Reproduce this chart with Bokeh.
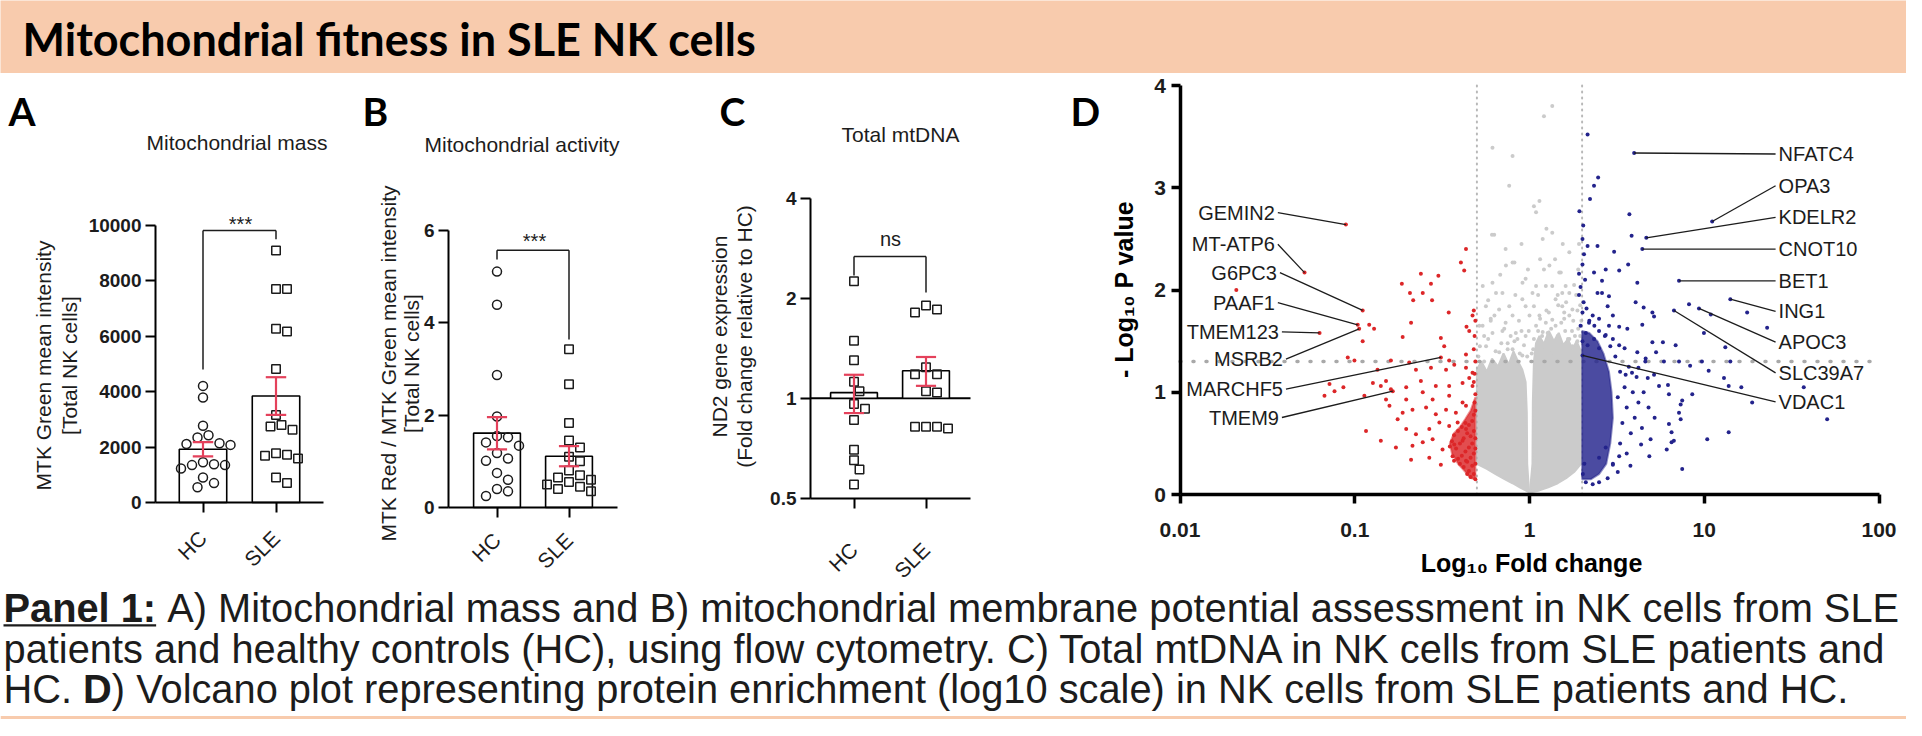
import numpy as np
from bokeh.plotting import figure
from bokeh.layouts import column, row
from bokeh.models import Range1d, FixedTicker, CustomJSTickFormatter, Label
from bokeh.core.properties import value
from bokeh.embed import file_html
from bokeh.resources import INLINE

# ======================= DATA =======================
groups = ["HC", "SLE"]

# A) Mitochondrial mass (MTK Green mean intensity)
mass_hc = [4210, 3790, 2770, 2430, 2350, 2140, 2110, 2080, 1450, 1380, 1350, 1350, 1230, 900, 700, 550]
mass_sle = [9100, 7710, 7710, 6270, 6170, 4820, 3160, 2800, 2740, 2630, 1780, 1720, 1690, 1590, 900, 700]
mass_ticks = [0, 2000, 4000, 6000, 8000, 10000]

# B) Mitochondrial activity (MTK Red / MTK Green)
act_hc = [5.11, 4.39, 2.87, 1.97, 1.55, 1.52, 1.41, 1.34, 1.18, 1.06, 1.01, 0.75, 0.60, 0.40, 0.35, 0.25]
act_sle = [3.43, 2.67, 1.83, 1.45, 1.30, 1.10, 1.00, 0.80, 0.70, 0.65, 0.60, 0.55, 0.50, 0.45, 0.40, 0.35]
act_ticks = [0, 2, 4, 6]

# C) Total mtDNA (ND2 fold change relative to HC)
mtdna_hc = [2.25, 1.49, 1.30, 1.12, 1.05, 0.96, 0.93, 0.86, 0.70, 0.65, 0.61, 0.55]
mtdna_sle = [1.90, 1.85, 1.81, 1.24, 1.18, 1.18, 1.05, 1.04, 0.82, 0.82, 0.82, 0.81]
mtdna_ticks = [0.5, 1, 2, 4]

significance = ["***", "***", "ns"]

# D) Volcano: (fold change, -log10 p)
fc_ticks = [0.01, 0.1, 1, 10, 100]
p_ticks = [0, 1, 2, 3, 4]
fc_low, fc_high, p_cut = 0.5, 2.0, 1.301

genes_left = ["GEMIN2", "MT-ATP6", "G6PC3", "PAAF1", "TMEM123", "MSRB2", "MARCHF5", "TMEM9"]
genes_left_fc = [0.089, 0.0516, 0.111, 0.104, 0.0629, 0.106, 0.311, 0.165]
genes_left_p = [2.64, 2.17, 1.80, 1.66, 1.58, 1.62, 1.34, 1.01]
genes_right = ["NFATC4", "OPA3", "KDELR2", "CNOT10", "BET1", "ING1", "APOC3", "SLC39A7", "VDAC1"]
genes_right_fc = [3.97, 11.1, 4.66, 4.42, 7.17, 14.1, 9.33, 6.71, 2.01]
genes_right_p = [3.34, 2.67, 2.51, 2.40, 2.09, 1.91, 1.82, 1.80, 1.36]

down_points = [
    (0.021, 2.0), (0.433, 2.40), (0.405, 2.27), (0.423, 2.19), (0.239, 2.16), (0.301, 2.14),
    (0.186, 2.06), (0.207, 1.97), (0.245, 1.97), (0.273, 2.06), (0.216, 1.90), (0.277, 1.90),
    (0.345, 1.78), (0.121, 1.66), (0.129, 1.62), (0.210, 1.68), (0.188, 1.54), (0.111, 1.50),
    (0.311, 1.53), (0.325, 1.45), (0.436, 1.64), (0.452, 1.60), (0.472, 1.75), (0.0912, 1.34),
    (0.0996, 1.31), (0.433, 1.37), (0.347, 1.31), (0.371, 1.27), (0.135, 1.22), (0.161, 1.31),
    (0.205, 1.29), (0.224, 1.22), (0.273, 1.24), (0.333, 1.22), (0.433, 1.24), (0.472, 1.19),
    (0.0717, 1.08), (0.0861, 1.05), (0.127, 1.09), (0.151, 1.11), (0.141, 1.06), (0.161, 1.03),
    (0.197, 1.05), (0.239, 1.11), (0.291, 1.06), (0.347, 1.06), (0.414, 1.09), (0.452, 1.14),
    (0.472, 1.06), (0.0671, 0.965), (0.0766, 1.01), (0.1135, 0.965), (0.151, 0.93), (0.197, 0.93),
    (0.245, 1.00), (0.279, 0.93), (0.347, 0.965), (0.414, 0.90), (0.158, 0.867), (0.188, 0.80),
    (0.214, 0.83), (0.256, 0.85), (0.291, 0.785), (0.333, 0.83), (0.379, 0.80), (0.433, 0.867),
    (0.116, 0.62), (0.141, 0.525), (0.176, 0.736), (0.197, 0.64), (0.224, 0.59), (0.267, 0.64),
    (0.305, 0.704), (0.347, 0.67), (0.388, 0.704), (0.433, 0.64), (0.172, 0.46), (0.214, 0.476),
    (0.245, 0.51), (0.279, 0.54), (0.318, 0.44), (0.371, 0.49), (0.414, 0.525), (0.210, 0.34),
    (0.267, 0.36), (0.311, 0.29), (0.363, 0.375), (0.433, 0.33),
    (0.47, 0.72), (0.45, 0.68), (0.43, 0.70), (0.41, 0.66), (0.39, 0.62), (0.37, 0.58),
    (0.36, 0.52), (0.35, 0.47), (0.38, 0.45), (0.40, 0.50), (0.42, 0.55), (0.44, 0.60),
    (0.46, 0.57), (0.48, 0.62), (0.49, 0.55), (0.47, 0.50), (0.45, 0.46), (0.43, 0.42),
    (0.41, 0.38), (0.39, 0.35), (0.37, 0.33), (0.40, 0.30), (0.42, 0.27), (0.44, 0.32),
    (0.46, 0.36), (0.48, 0.40), (0.49, 0.45), (0.47, 0.28), (0.45, 0.23), (0.48, 0.20),
    (0.49, 0.30), (0.46, 0.17), (0.44, 0.20), (0.49, 0.15),
    (0.48, 1.80), (0.49, 1.70), (0.485, 1.55), (0.48, 1.42), (0.49, 1.30), (0.485, 1.18),
    (0.48, 1.10), (0.49, 0.98), (0.485, 0.90), (0.49, 0.82), (0.48, 0.78),
]

up_points = [
    (2.15, 3.52), (2.47, 3.10), (2.34, 3.02), (2.22, 2.89), (3.73, 2.74), (1.93, 2.77), (2.03, 2.63),
    (3.84, 2.53), (2.01, 2.50), (2.15, 2.43), (2.45, 2.43), (3.05, 2.375), (3.67, 2.25), (2.01, 2.25),
    (2.73, 2.20), (2.34, 2.17), (3.26, 2.19), (1.92, 2.16), (2.60, 2.09), (4.14, 2.07), (1.96, 2.03),
    (2.45, 1.97), (2.60, 1.97), (2.85, 1.94), (1.92, 1.95), (4.05, 1.88), (2.80, 1.84), (8.18, 1.86),
    (5.05, 1.78), (5.16, 1.74), (4.50, 1.83), (10.9, 1.76), (17.6, 1.78), (2.01, 1.78), (2.30, 1.75),
    (2.50, 1.72), (3.00, 1.75), (22.9, 1.63), (9.96, 1.58), (1.96, 1.65), (2.10, 1.58), (2.19, 1.68),
    (2.85, 1.65), (3.26, 1.64), (3.63, 1.62), (4.42, 1.66), (2.73, 1.56), (3.00, 1.52), (5.05, 1.49),
    (5.80, 1.49), (6.86, 1.46), (13.2, 1.44), (2.01, 1.50), (2.15, 1.46), (2.34, 1.52), (2.50, 1.43),
    (3.26, 1.46), (3.50, 1.43), (4.14, 1.39), (5.30, 1.39), (4.62, 1.33), (5.88, 1.30), (7.17, 1.30),
    (8.30, 1.26), (9.70, 1.30), (14.1, 1.30), (10.6, 1.21), (12.97, 1.14), (13.8, 1.06), (16.3, 1.05),
    (37.1, 1.05), (18.8, 0.90), (50.5, 0.736), (8.54, 0.98), (7.48, 0.92), (7.33, 0.88), (6.28, 0.98),
    (5.51, 1.06), (5.16, 1.17), (4.75, 1.14), (6.20, 1.07), (4.20, 1.24), (3.86, 1.19), (3.55, 1.17),
    (7.17, 0.80), (7.33, 0.736), (6.28, 0.69), (6.50, 0.61), (13.8, 0.61), (10.4, 0.54), (6.50, 0.51),
    (6.70, 0.525), (4.93, 0.54), (4.35, 0.49), (6.10, 0.44), (4.85, 0.375), (3.78, 0.28), (7.48, 0.25),
    (2.50, 0.36), (3.26, 0.375), (3.00, 0.29), (2.73, 0.46),
    (3.1, 1.35), (3.3, 1.2), (3.5, 1.05), (3.2, 0.95), (3.6, 0.85), (3.4, 0.7), (3.8, 0.6), (3.3, 0.5),
    (3.6, 0.4), (3.0, 0.3), (3.2, 0.22), (2.8, 0.16), (2.5, 0.12), (2.3, 0.1), (2.1, 0.12), (2.9, 1.45),
    (2.7, 1.55), (2.5, 1.6), (2.35, 1.65), (2.2, 1.7), (3.9, 1.0), (4.2, 0.9), (4.0, 0.75), (4.4, 0.65),
    (3.7, 1.25), (4.1, 1.15), (4.5, 1.0), (4.8, 0.85), (5.2, 0.75), (4.6, 1.3), (2.05, 2.35),
    (2.08, 2.1), (2.04, 1.88), (2.12, 1.82), (2.02, 0.2), (2.06, 0.3),
]

ns_points = [
    (1.35, 3.80), (1.21, 3.70), (0.614, 3.39), (0.80, 3.31), (0.765, 3.02), (1.14, 2.87), (1.09, 2.76),
    (1.06, 2.82), (0.628, 2.54), (1.35, 2.56), (1.19, 2.50), (0.73, 2.40), (0.80, 2.27), (1.30, 2.24),
    (0.614, 2.07), (0.70, 1.97), (0.912, 2.07), (1.04, 1.97), (1.24, 2.04), (1.48, 2.17), (1.54, 1.97),
    (1.61, 2.04), (0.563, 1.84), (0.67, 1.81), (0.80, 1.75), (0.95, 1.84), (1.41, 1.91), (1.54, 1.84),
    (1.69, 1.97), (1.14, 1.75), (1.35, 1.71), (1.69, 1.75), (0.539, 1.65), (0.614, 1.58), (0.73, 1.68),
    (0.835, 1.58), (1.09, 1.65), (1.24, 1.68), (1.41, 1.65), (0.52, 1.45), (0.58, 1.52), (0.64, 1.40),
    (0.69, 1.48), (0.75, 1.42), (0.82, 1.50), (0.88, 1.38), (0.93, 1.46), (1.06, 1.52), (1.12, 1.60),
    (1.18, 1.55), (1.27, 1.58), (1.33, 1.62), (1.45, 1.55), (1.52, 1.68), (1.60, 1.60), (1.66, 1.52),
    (1.75, 1.60), (1.82, 1.55), (1.90, 1.62), (0.55, 1.30), (0.62, 1.25), (0.72, 1.30), (0.85, 1.25),
    (0.97, 1.35), (1.15, 1.72), (1.25, 1.80), (1.46, 1.85), (1.58, 1.78), (1.78, 1.70), (1.88, 1.80),
    (0.60, 1.70), (0.90, 1.60), (1.98, 1.70), (1.95, 1.55), (0.51, 1.35), (0.78, 1.55), (0.99, 1.60),
    (0.61, 2.54), (0.733, 2.24), (0.82, 2.27), (0.95, 2.11), (1.09, 2.04), (1.21, 2.20), (1.35, 2.04),
    (1.51, 2.17), (1.69, 2.37), (0.54, 2.04), (0.643, 1.97), (0.766, 1.84), (0.91, 1.91), (1.06, 1.84),
    (1.29, 1.78), (1.58, 1.72), (1.76, 1.81), (0.516, 1.65), (0.60, 1.72), (0.717, 1.62), (0.853, 1.52),
    (0.95, 1.55), (1.19, 1.59), (1.41, 1.49), (1.69, 1.52), (0.564, 1.45), (0.671, 1.39), (0.80, 1.42),
    (0.91, 1.36), (1.05, 1.42), (1.35, 1.39), (1.21, 1.45), (1.76, 1.45), (1.88, 1.50), (0.70, 1.60),
    (0.63, 1.75), (0.87, 1.70), (1.00, 1.75), (1.12, 1.95), (1.45, 1.95), (1.62, 1.88), (1.85, 1.95),
    (0.58, 1.90), (0.83, 1.95), (0.98, 2.20), (1.15, 2.30), (1.40, 2.30), (0.68, 2.15), (1.55, 2.45),
    (1.25, 2.60), (0.90, 2.45), (1.90, 2.20), (1.80, 2.05), (0.55, 1.55), (0.75, 1.48), (1.03, 1.38),
    (1.95, 1.85), (1.92, 2.45),
]

# dense cores of the volcano (outline of the solid-looking clouds)
ns_cloud_left = [(0.50, 0.30), (0.50, 1.22), (0.53, 1.30), (0.57, 1.20), (0.61, 1.33), (0.66, 1.25),
                 (0.71, 1.38), (0.76, 1.27), (0.81, 1.40), (0.86, 1.30), (0.91, 1.22), (0.95, 1.10),
                 (0.965, 0.80), (0.97, 0.30), (0.995, 0.02), (0.95, 0.04), (0.88, 0.07), (0.80, 0.11),
                 (0.72, 0.15), (0.64, 0.20), (0.57, 0.25)]
ns_cloud_right = [(1.005, 0.02), (1.04, 0.30), (1.045, 0.90), (1.06, 1.30), (1.09, 1.48), (1.14, 1.55),
                  (1.21, 1.47), (1.29, 1.60), (1.38, 1.50), (1.47, 1.58), (1.56, 1.46), (1.66, 1.52),
                  (1.76, 1.42), (1.86, 1.50), (1.97, 1.40), (1.97, 0.30), (1.80, 0.22), (1.62, 0.16),
                  (1.45, 0.11), (1.28, 0.07), (1.14, 0.04)]
down_cloud = [(0.49, 0.15), (0.49, 0.95), (0.46, 0.82), (0.43, 0.74), (0.40, 0.66), (0.37, 0.60),
              (0.35, 0.50), (0.36, 0.40), (0.39, 0.30), (0.43, 0.22), (0.46, 0.16)]
up_cloud = [(2.0, 0.15), (2.0, 1.60), (2.2, 1.58), (2.45, 1.50), (2.65, 1.38), (2.85, 1.20), (2.95, 1.00),
            (3.0, 0.75), (2.9, 0.50), (2.75, 0.30), (2.5, 0.20), (2.25, 0.15)]

# ======================= STYLE / LAYOUT =======================
TXT = "#1c1c1c"
ERR = "#E4415B"
PEACH = "#F8CBAD"
NS_COL = "#CBCBCB"
DOWN_COL = "#DC2628"
UP_COL = "#23238C"
SANS = "Liberation Sans"
HEAD = "Lato"
PAGE = 8            # body margin of the page
HDR_H = 73
ROW_TOP = PAGE + HDR_H
ROW_H = 509
W = 1906


class Frame:
    """panel whose frame fills its whole canvas; maps page pixels to data"""

    def __init__(self, px0, w, xr, yr, xlog=False, ylog=False):
        self.px0, self.w, self.xr, self.yr, self.xlog, self.ylog = px0, w, xr, yr, xlog, ylog

    @staticmethod
    def _map(t, r, lg):
        if lg:
            a, b = np.log10(r[0]), np.log10(r[1])
            return 10 ** (a + t * (b - a))
        return r[0] + t * (r[1] - r[0])

    def x(self, X):
        return self._map((X - self.px0) / self.w, self.xr, self.xlog)

    def y(self, Y):
        return self._map((ROW_TOP + ROW_H - Y) / ROW_H, self.yr, self.ylog)


def lin_x(px0, w, X0, v0, ppu):
    return (v0 - (X0 - px0) / ppu, v0 + (px0 + w - X0) / ppu)


def lin_y(Y0, v0, ppu):
    return (v0 - (ROW_TOP + ROW_H - Y0) / ppu, v0 + (Y0 - ROW_TOP) / ppu)


def log_x(px0, w, X0, v0, ppd, base):
    lv = np.log(v0) / np.log(base)
    return (base ** (lv - (X0 - px0) / ppd), base ** (lv + (px0 + w - X0) / ppd))


def log_y(Y0, v0, ppd, base):
    lv = np.log(v0) / np.log(base)
    return (base ** (lv - (ROW_TOP + ROW_H - Y0) / ppd), base ** (lv + (Y0 - ROW_TOP) / ppd))


def mkpanel(fr_, **kw):
    p = figure(width=fr_.w, height=ROW_H, x_range=Range1d(*fr_.xr), y_range=Range1d(*fr_.yr),
               output_backend="svg", toolbar_location=None, min_border=0, **kw)
    p.outline_line_color = None
    p.xgrid.grid_line_color = None
    p.ygrid.grid_line_color = None
    p.background_fill_color = "white"
    p.border_fill_color = "white"
    return p


def txt(p, fr_, X, Y, text, size, bold=False, align="center", baseline="middle",
        angle=0.0, font=SANS, color=TXT):
    p.add_layout(Label(x=fr_.x(X), y=fr_.y(Y), text=text, text_font=font,
                       text_font_size=f"{size}px", text_font_style="bold" if bold else "normal",
                       text_align=align, text_baseline=baseline, angle=angle, text_color=color))


def style_axes(p, lw, tick_out, ylab_size, standoff):
    for ax in p.axis:
        ax.axis_line_color = "black"
        ax.axis_line_width = lw
        ax.major_tick_line_color = "black"
        ax.major_tick_line_width = lw
        ax.major_tick_out = tick_out
        ax.major_tick_in = 0
        ax.minor_tick_line_color = None
        ax.major_label_text_font = SANS
        ax.major_label_text_color = TXT
    p.yaxis.major_label_text_font_style = "bold"
    p.yaxis.major_label_text_font_size = f"{ylab_size}px"
    p.yaxis.major_label_standoff = standoff


def place_axes(p, x_at, x_bounds, y_at, y_bounds):
    p.yaxis.fixed_location = x_at
    p.yaxis.bounds = y_bounds
    p.xaxis.fixed_location = y_at
    p.xaxis.bounds = x_bounds


def swarm_offsets(vals, to_px, diam, step):
    order = sorted(range(len(vals)), key=lambda i: -vals[i])
    placed, offs = [], [0.0] * len(vals)
    cands = [0.0]
    for k in range(1, 14):
        cands += [k * step, -k * step]
    for i in order:
        y = to_px(vals[i])
        for c in cands:
            if all((c - px) ** 2 + (y - py) ** 2 >= diam ** 2 for px, py in placed):
                break
        placed.append((c, y))
        offs[i] = c
    return offs


def dot_bar_panel(p, data, markers, base, to_px, xppu, bracket, cap=0.14, bar_w=0.65):
    for i, vals in enumerate(data):
        xc = i + 1
        v = np.array(vals, float)
        m = v.mean()
        se = v.std(ddof=1) / np.sqrt(len(v))
        p.vbar(x=[xc], width=bar_w, bottom=[base], top=[m], fill_color="white",
               line_color="black", line_width=1.6)
        offs = swarm_offsets(list(v), to_px, 10.5, 5.5)
        xs = xc + np.array(offs) / xppu
        mk = markers[i]
        p.scatter(xs, v, marker=mk, size=9 if mk == "circle" else 8.5, fill_color=None,
                  line_color=TXT, line_width=1.5)
        p.segment([xc], [m - se], [xc], [m + se], line_color=ERR, line_width=2.2)
        p.segment([xc - cap, xc - cap], [m - se, m + se], [xc + cap, xc + cap], [m - se, m + se],
                  line_color=ERR, line_width=2.2)
    top, l_leg, r_leg = bracket
    p.segment([1, 1, 2], [top, top, top], [2, 1, 2], [top, l_leg, r_leg], line_color=TXT, line_width=1.5)


def cat_axis(p, standoff):
    p.xaxis.ticker = FixedTicker(ticks=[1, 2], minor_ticks=[])
    p.xaxis.formatter = CustomJSTickFormatter(args=dict(cats=groups),
                                              code="return (tick == 1) ? cats[0] : ((tick == 2) ? cats[1] : '');")
    p.xaxis.major_label_orientation = np.pi / 4
    p.xaxis.major_label_text_font_size = "21px"
    p.xaxis.major_label_standoff = standoff


def letter(p, fr_, X, ch):
    txt(p, fr_, X, 118, ch, 39, bold=True, align="left", font=HEAD, color="black")


# ======================= PANEL A =======================
fA = Frame(8, 357, lin_x(8, 357, 210.5, 1, 73), lin_y(510, 0, 277 / 10000))
pA = mkpanel(fA)
dot_bar_panel(pA, [mass_hc, mass_sle], ["circle", "square"], 0,
              lambda v: v * 277 / 10000, 73, (9820, 4800, 9500))
pA.yaxis.ticker = FixedTicker(ticks=mass_ticks, minor_ticks=[])
cat_axis(pA, 22)
style_axes(pA, 2, 10, 19, 4)
place_axes(pA, fA.x(163), (fA.x(163), fA.x(331)), 0, (0, 10000))
letter(pA, fA, 16, "A")
txt(pA, fA, 244.5, 150, "Mitochondrial mass", 21)
txt(pA, fA, 51, 373, "MTK Green mean intensity", 21, angle=np.pi / 2)
txt(pA, fA, 77, 373, "[Total NK cells]", 21, angle=np.pi / 2)
txt(pA, fA, 248, 231, significance[0], 20)

# ======================= PANEL B =======================
fB = Frame(365, 340, lin_x(365, 340, 504.5, 1, 72), lin_y(515, 0, 277 / 6))
pB = mkpanel(fB)
dot_bar_panel(pB, [act_hc, act_sle], ["circle", "square"], 0,
              lambda v: v * 277 / 6, 72, (5.57, 5.37, 3.64))
pB.yaxis.ticker = FixedTicker(ticks=act_ticks, minor_ticks=[])
cat_axis(pB, 19)
style_axes(pB, 2, 10, 19, 4)
place_axes(pB, fB.x(456), (fB.x(456), fB.x(625)), 0, (0, 6))
letter(pB, fB, 370, "B")
txt(pB, fB, 529.5, 152, "Mitochondrial activity", 21)
txt(pB, fB, 396, 371, "MTK Red / MTK Green mean intensity", 21, angle=np.pi / 2)
txt(pB, fB, 419, 371, "[Total NK cells]", 21, angle=np.pi / 2)
txt(pB, fB, 542, 248, significance[1], 20)

# ======================= PANEL C =======================
fC = Frame(705, 365, lin_x(705, 365, 861.5, 1, 72), log_y(405.7, 1, 100, 2), ylog=True)
pC = mkpanel(fC, y_axis_type="log")
pC.segment([fC.x(818)], [1], [fC.x(978)], [1], line_color="black", line_width=2)
dot_bar_panel(pC, [mtdna_hc, mtdna_sle], ["square", "square"], 1,
              lambda v: 100 * np.log2(v), 72, (2.67, 2.34, 2.08))
pC.yaxis.ticker = FixedTicker(ticks=mtdna_ticks, minor_ticks=[])
pC.yaxis.formatter = CustomJSTickFormatter(code="return tick.toString();")
cat_axis(pC, 38)
style_axes(pC, 2, 10, 19, 4)
place_axes(pC, fC.x(818), (fC.x(818), fC.x(978)), 0.5, (0.5, 4))
letter(pC, fC, 727, "C")
txt(pC, fC, 908, 142, "Total mtDNA", 21)
txt(pC, fC, 727, 344, "ND2 gene expression", 21, angle=np.pi / 2)
txt(pC, fC, 752, 344, "(Fold change relative to HC)", 21, angle=np.pi / 2)
txt(pC, fC, 898, 246, significance[2], 20)

# ======================= PANEL D =======================
fD = Frame(1070, 844, log_x(1070, 844, 1537, 1, 174.75, 10), lin_y(502, 0, 102.25), xlog=True)
pD = mkpanel(fD, x_axis_type="log")

for cloud in (ns_cloud_left, ns_cloud_right):
    pD.patch([c[0] for c in cloud], [c[1] for c in cloud], fill_color=NS_COL, line_color=NS_COL,
             line_width=2)
pD.scatter([q[0] for q in ns_points], [q[1] for q in ns_points], size=4, fill_color=NS_COL,
           line_color=None)
pD.segment([fc_low, fc_high], [0, 0], [fc_low, fc_high], [4, 4], line_color="#B8B8B8", line_width=2,
           line_dash="1 5", line_cap="round")
pD.segment([0.01], [p_cut], [fD.x(1878)], [p_cut], line_color="#A9A9A9", line_width=3.5,
           line_dash="1 12", line_cap="round")

pD.patch([c[0] for c in down_cloud], [c[1] for c in down_cloud], fill_color=DOWN_COL,
         line_color=DOWN_COL, line_width=2, fill_alpha=0.82, line_alpha=0.5)
pD.patch([c[0] for c in up_cloud], [c[1] for c in up_cloud], fill_color=UP_COL,
         line_color=UP_COL, line_width=2, fill_alpha=0.82, line_alpha=0.5)
pD.scatter([q[0] for q in down_points] + genes_left_fc, [q[1] for q in down_points] + genes_left_p,
           size=4, fill_color=DOWN_COL, line_color=None)
pD.scatter([q[0] for q in up_points] + genes_right_fc, [q[1] for q in up_points] + genes_right_p,
           size=4, fill_color=UP_COL, line_color=None)

# gene labels with leader lines (label anchor positions are layout, not data)
left_anchor_fc = [0.0363, 0.0363, 0.0373, 0.0363, 0.0383, 0.0404, 0.0404, 0.0383]
left_anchor_p = [2.757, 2.447, 2.17, 1.877, 1.59, 1.323, 1.03, 0.753]
right_anchor_fc = [25.6] * len(genes_right)
right_anchor_p = [3.33, 3.02, 2.71, 2.40, 2.09, 1.79, 1.49, 1.19, 0.906]
pD.segment(left_anchor_fc, left_anchor_p, genes_left_fc, genes_left_p, line_color=TXT, line_width=1.3)
pD.segment(right_anchor_fc, right_anchor_p, genes_right_fc, genes_right_p, line_color=TXT,
           line_width=1.3)
pD.text(x=left_anchor_fc, y=left_anchor_p, text=genes_left, text_align="right", text_baseline="middle",
        x_offset=-3, text_font=value(SANS), text_font_size="20px", text_color=TXT)
pD.text(x=right_anchor_fc, y=right_anchor_p, text=genes_right, text_align="left",
        text_baseline="middle", x_offset=3, text_font=value(SANS), text_font_size="20px",
        text_color=TXT)

pD.xaxis.ticker = FixedTicker(ticks=fc_ticks, minor_ticks=[])
pD.xaxis.formatter = CustomJSTickFormatter(code="return tick.toString();")
pD.yaxis.ticker = FixedTicker(ticks=p_ticks, minor_ticks=[])
style_axes(pD, 3.5, 9, 21, 5)
pD.xaxis.major_label_text_font_style = "bold"
pD.xaxis.major_label_text_font_size = "21px"
pD.xaxis.major_label_standoff = 19
place_axes(pD, 0.01, (0.01, 100), 0, (0, 4))
letter(pD, fD, 1078, "D")
txt(pD, fD, 1131, 297, "- Log\u2081\u2080 P value", 25, bold=True, angle=np.pi / 2, color="black")
txt(pD, fD, 1539, 570, "Log\u2081\u2080 Fold change", 25, bold=True, color="black")

# ======================= HEADER =======================
hdr = figure(width=W, height=HDR_H, x_range=Range1d(0, W), y_range=Range1d(HDR_H, 0),
             x_axis_type=None, y_axis_type=None, output_backend="svg", toolbar_location=None,
             min_border=0)
hdr.outline_line_color = None
hdr.background_fill_color = PEACH
hdr.border_fill_color = PEACH
hdr.text(x=[22], y=[38], text=["Mitochondrial fitness in SLE NK cells"], text_font=value(HEAD),
         text_font_size="45px", text_font_style="bold", text_color="black",
         text_align="left", text_baseline="middle")

# ======================= CAPTION =======================
AR = {" ": 278, ".": 278, ",": 278, ":": 278, "(": 333, ")": 333, "-": 333}
AR.update({d: 556 for d in "0123456789"})
AR.update(dict(zip("ABCDEFGHIJKLMNOPQRSTUVWXYZ",
                   [667, 667, 722, 722, 667, 611, 778, 722, 278, 500, 667, 556, 833, 722, 778, 667, 778,
                    722, 667, 611, 722, 667, 944, 667, 667, 611])))
AR.update(dict(zip("abcdefghijklmnopqrstuvwxyz",
                   [556, 556, 500, 556, 556, 278, 556, 556, 222, 222, 500, 222, 833, 556, 556, 556, 556,
                    333, 500, 278, 556, 500, 722, 500, 500, 500])))
ARB = {"P": 667, "a": 556, "n": 611, "e": 556, "l": 278, " ": 278, "1": 556, ":": 333, "D": 722}


def tw(s, size, bold=False):
    t = ARB if bold else AR
    return sum(t.get(ch, 556) for ch in s) * size / 1000.0


CAP_H = 137
cap = figure(width=W, height=CAP_H, x_range=Range1d(0, W), y_range=Range1d(CAP_H, 0),
             x_axis_type=None, y_axis_type=None, output_backend="svg", toolbar_location=None,
             min_border=0)
cap.outline_line_color = None
cap.background_fill_color = "white"
cap.border_fill_color = "white"
CS = 39.8
caption_lines = [
    (25, [("Panel 1:", True, True),
          (" A) Mitochondrial mass and B) mitochondrial membrane potential assessment in NK cells from SLE", False, False)]),
    (66, [("patients and healthy controls (HC), using flow cytometry. C) Total mtDNA in NK cells from SLE patients and", False, False)]),
    (106.5, [("HC.", False, False), (" D", True, False),
             (") Volcano plot representing protein enrichment (log10 scale) in NK cells from SLE patients and HC.", False, False)]),
]
for yc, runs in caption_lines:
    x = 3.0
    for s, bold, ul in runs:
        stripped = s.lstrip(" ")
        x += tw(s[:len(s) - len(stripped)], CS, False)   # leading blanks collapse in SVG: advance instead
        cap.text(x=[x], y=[yc], text=[stripped], text_font=value(SANS), text_font_size=f"{CS}px",
                 text_font_style="bold" if bold else "normal", text_color=TXT,
                 text_align="left", text_baseline="middle")
        w = tw(stripped, CS, bold)
        if ul:
            uy = yc + 0.35 * CS + 4
            cap.segment([x], [uy], [x + w], [uy], line_color=TXT, line_width=2.2)
        x += w
cap.quad(left=[0], right=[W], top=[CAP_H - 3.5], bottom=[CAP_H], fill_color=PEACH, line_color=None)

layout = column(hdr, row(pA, pB, pC, pD, spacing=0), cap, spacing=0)
open("out.html", "w").write(file_html(layout, INLINE))
